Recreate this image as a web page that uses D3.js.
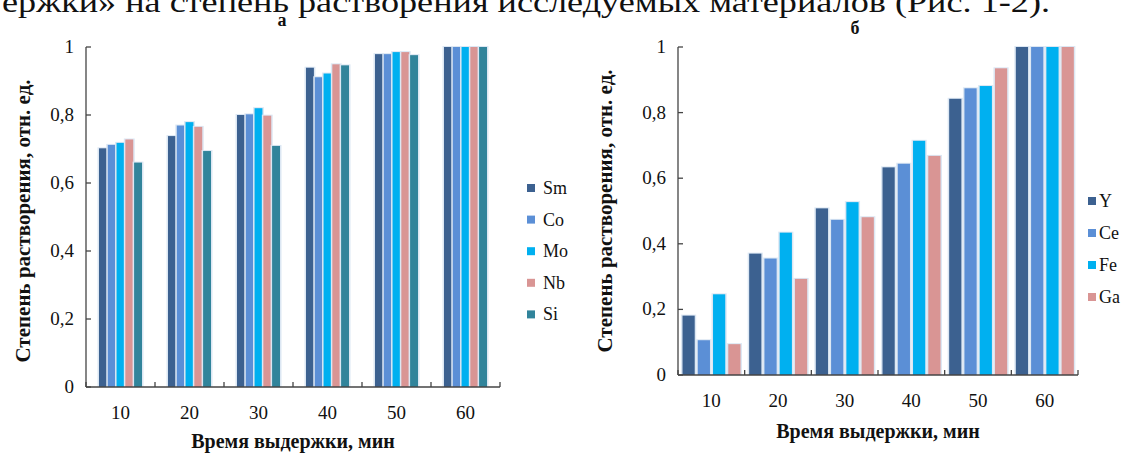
<!DOCTYPE html>
<html>
<head>
<meta charset="utf-8">
<script src="https://cdn.jsdelivr.net/npm/d3@7"></script>
<style>
  body { margin: 0; background: #fff; }
</style>
</head>
<body>
<svg id="chart" width="1125" height="453"></svg>
<script>
// data
const times = ["10", "20", "30", "40", "50", "60"];
const yTicks = [0, 0.2, 0.4, 0.6, 0.8, 1];

const seriesA = ["Sm", "Co", "Mo", "Nb", "Si"];
const valuesA = [
  [0.702, 0.738, 0.800, 0.939, 0.979, 1.0],   // Sm
  [0.712, 0.769, 0.802, 0.911, 0.979, 1.0],   // Co
  [0.718, 0.779, 0.820, 0.922, 0.985, 1.0],   // Mo
  [0.728, 0.765, 0.798, 0.949, 0.985, 1.0],   // Nb
  [0.660, 0.694, 0.709, 0.946, 0.976, 1.0]    // Si
];

const seriesB = ["Y", "Ce", "Fe", "Ga"];
const valuesB = [
  [0.181, 0.370, 0.508, 0.633, 0.842, 1.0],   // Y
  [0.106, 0.355, 0.473, 0.644, 0.874, 1.0],   // Ce
  [0.246, 0.434, 0.527, 0.714, 0.881, 1.0],   // Fe
  [0.094, 0.293, 0.481, 0.668, 0.935, 1.0]    // Ga
];

const colors = {
  Sm: "#3c6190", Co: "#5b8fd6", Mo: "#00b0f0", Nb: "#d99594", Si: "#31849b",
  Y: "#3c6190", Ce: "#5b8fd6", Fe: "#00b0f0", Ga: "#d99594"
};

const SERIF = "Liberation Serif";

const svg = d3.select("#chart");

// cut-off line of body text above the figures
svg.append("text")
  .attr("x", 2).attr("y", 12)
  .attr("font-family", SERIF)
  .attr("font-size", 30)
  .attr("textLength", 1048)
  .attr("lengthAdjust", "spacingAndGlyphs")
  .attr("fill", "#111")
  .text("ержки» на степень растворения исследуемых материалов (Рис. 1-2).");

function label(g) {
  return g.append("text").attr("font-family", SERIF).attr("fill", "#111");
}

function drawPanel(o) {
  const g = svg.append("g");
  const x = d3.scaleBand().domain(times).range([o.left, o.right]).padding(0);
  const xi = d3.scaleBand().domain(o.series)
    .range([o.innerStart, o.innerStart + o.innerWidth])
    .paddingInner(o.innerPad);
  const y = d3.scaleLinear().domain([0, 1]).range([o.bottom, o.top]);

  o.series.forEach((s, si) => {
    const rows = o.values[si].map((v, i) => ({ t: times[i], v }));
    // soft halo
    g.selectAll(null).data(rows).enter().append("rect")
      .attr("x", d => x(d.t) + xi(s) - 1.5)
      .attr("y", d => y(d.v) - 1)
      .attr("width", xi.bandwidth() + 3)
      .attr("height", d => y(0) - y(d.v) + 1)
      .attr("fill", "#dce7f3");
    g.selectAll(null).data(rows).enter().append("rect")
      .attr("x", d => x(d.t) + xi(s))
      .attr("y", d => y(d.v))
      .attr("width", xi.bandwidth())
      .attr("height", d => y(0) - y(d.v))
      .attr("fill", colors[s]);
  });

  // y axis
  g.append("line")
    .attr("x1", o.left).attr("x2", o.left)
    .attr("y1", y(1)).attr("y2", y(0))
    .attr("stroke", "#444").attr("stroke-width", 1.3);
  g.selectAll(null).data(yTicks).enter().append("line")
    .attr("x1", o.left).attr("x2", o.left + 5)
    .attr("y1", d => y(d)).attr("y2", d => y(d))
    .attr("stroke", "#444").attr("stroke-width", 1.3);
  yTicks.forEach(t => {
    label(g)
      .attr("x", o.left - 12).attr("y", y(t) + 6)
      .attr("text-anchor", "end")
      .attr("font-size", 19)
      .text(d3.format(".1~f")(t).replace(".", ","));
  });

  // x axis
  g.append("line")
    .attr("x1", o.left).attr("x2", o.right)
    .attr("y1", y(0)).attr("y2", y(0))
    .attr("stroke", "#444").attr("stroke-width", 1.3);
  const bounds = times.map(t => x(t)).concat([o.right]);
  g.selectAll(null).data(bounds).enter().append("line")
    .attr("x1", d => d).attr("x2", d => d)
    .attr("y1", y(0)).attr("y2", y(0) - 5)
    .attr("stroke", "#444").attr("stroke-width", 1.3);
  times.forEach(t => {
    label(g)
      .attr("x", x(t) + x.bandwidth() / 2)
      .attr("y", o.tickLabelY)
      .attr("text-anchor", "middle")
      .attr("font-size", 19)
      .text(t);
  });

  label(g)
    .attr("x", o.xLabelX).attr("y", o.xLabelY)
    .attr("text-anchor", "middle")
    .attr("font-size", 20).attr("font-weight", "bold")
    .text("Время выдержки, мин");

  label(g)
    .attr("transform", `translate(${o.yLabelX},${o.yLabelY}) rotate(-90)`)
    .attr("text-anchor", "middle")
    .attr("font-size", 21).attr("font-weight", "bold")
    .text("Степень растворения, отн. ед.");

  label(g)
    .attr("x", o.titleX).attr("y", o.titleY)
    .attr("text-anchor", "middle")
    .attr("font-size", 18).attr("font-weight", "bold")
    .text(o.title);

  // legend
  o.series.forEach((s, i) => {
    const ly = o.legY + i * o.legStep;
    g.append("rect")
      .attr("x", o.legX).attr("y", ly - 4).attr("width", 8).attr("height", 8)
      .attr("fill", colors[s]);
    label(g)
      .attr("x", o.legX + o.legTextDx).attr("y", ly + 6)
      .attr("font-size", 18)
      .text(s);
  });
}

drawPanel({
  title: "а", titleX: 282, titleY: 26,
  series: seriesA, values: valuesA,
  left: 86, right: 500, top: 47, bottom: 387,
  innerStart: 13, innerWidth: 43, innerPad: 0.1,
  tickLabelY: 419, xLabelX: 293, xLabelY: 448,
  yLabelX: 30, yLabelY: 221,
  legX: 527, legY: 188, legStep: 31.6, legTextDx: 16
});

drawPanel({
  title: "б", titleX: 855, titleY: 34,
  series: seriesB, values: valuesB,
  left: 678, right: 1078, top: 47, bottom: 375,
  innerStart: 4.5, innerWidth: 58, innerPad: 0.2,
  tickLabelY: 407, xLabelX: 878, xLabelY: 438,
  yLabelX: 612, yLabelY: 211,
  legX: 1088, legY: 201, legStep: 32, legTextDx: 11
});
</script>
</body>
</html>
